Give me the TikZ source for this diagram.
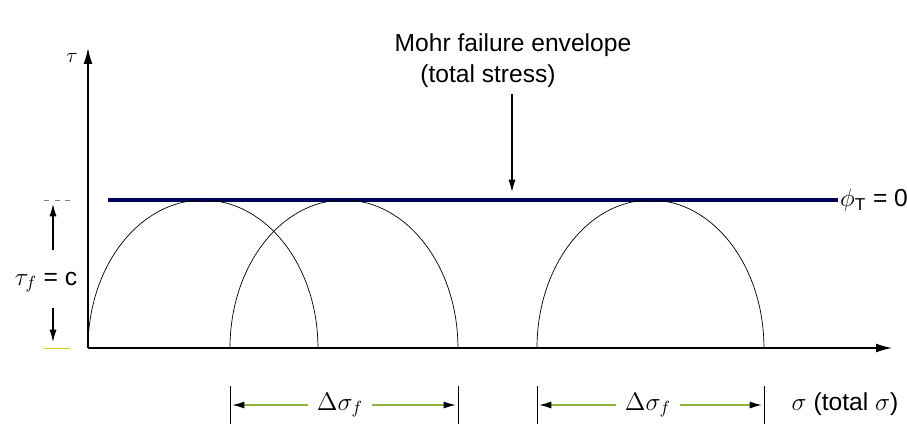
\documentclass[tikz,border=0pt]{standalone}
\usepackage{fontspec}
\setmainfont{Liberation Sans}
\usetikzlibrary{arrows.meta,positioning}

\tikzset{
  axis/.style={thick, -{Latex[length=9pt,width=5pt]}},
  mohr/.style={thin},
  dimline/.style={thick, draw=yellow!60!green!80!black, -{Latex[black,length=7pt,width=4pt]}},
  pointer/.style={semithick, -{Latex[length=7pt,width=4pt]}},
  lbl/.style={font=\fontsize{14}{16}\selectfont, inner sep=1pt},
}

\begin{document}
\begin{tikzpicture}[x=0.02cm, y=-0.02cm]
    \useasboundingbox (0,0) rectangle (907,426);

    \coordinate (O) at (88,348);
    \coordinate (xend) at (892,348);
    \coordinate (yend) at (88,48);
    \draw[axis] (O) -- (xend);
    \draw[axis] (O) -- (yend);
    \node[lbl] (tau) at (72,58) {\large$\tau$};

    % failure envelope
    \coordinate (envL) at (108,200);
    \node[lbl, anchor=west] (phi) at (838,200) {$\phi_{\mathrm{T}}$ = 0};
    \draw[line width=2.5pt, draw=blue!35!black] (envL) -- (phi.west);

    \node[lbl] (mohr1) at (513,45) {Mohr failure envelope};
    \node[lbl] (mohr2) at (488,76) {(total stress)};
    \coordinate (hit) at (512,192);
    \draw[pointer] (512,94) -- (hit);

    % Mohr circles
    \draw[mohr] (88,348) arc[start angle=180, end angle=0, x radius=2.3cm, y radius=2.96cm];
    \draw[mohr] (230,348) arc[start angle=180, end angle=0, x radius=2.28cm, y radius=2.96cm];
    \draw[mohr] (537,348) arc[start angle=180, end angle=0, x radius=2.27cm, y radius=2.96cm];

    % tau_f = c
    \node[lbl] (tauf) at (46,282) {$\tau_f$ = c};
    \coordinate (ctop) at (53,204);
    \coordinate (cbot) at (53,342);
    \draw[pointer] (53,250) -- (ctop);
    \draw[pointer] (53,308) -- (cbot);
    \draw[gray, dashed] (44,200) -- (70,200);
    \draw[yellow!70!olive] (44,348) -- (70,348);

    % stress differences
    \foreach \x in {230,458,537,764}
        \draw[thin] (\x,386) -- (\x,424);
    \node[lbl] (ds1) at (340,405) {$\Delta\sigma_f$};
    \node[lbl] (ds2) at (648,405) {$\Delta\sigma_f$};
    \coordinate (a1) at (232,405);
    \coordinate (b1) at (456,405);
    \coordinate (a2) at (539,405);
    \coordinate (b2) at (762,405);
    \draw[dimline] ([xshift=-4pt]ds1.west) -- (a1);
    \draw[dimline] ([xshift=4pt]ds1.east) -- (b1);
    \draw[dimline] ([xshift=-4pt]ds2.west) -- (a2);
    \draw[dimline] ([xshift=4pt]ds2.east) -- (b2);
    \node[lbl] (sig) at (845,404) {$\sigma$ (total $\sigma$)};
\end{tikzpicture}
\end{document}
